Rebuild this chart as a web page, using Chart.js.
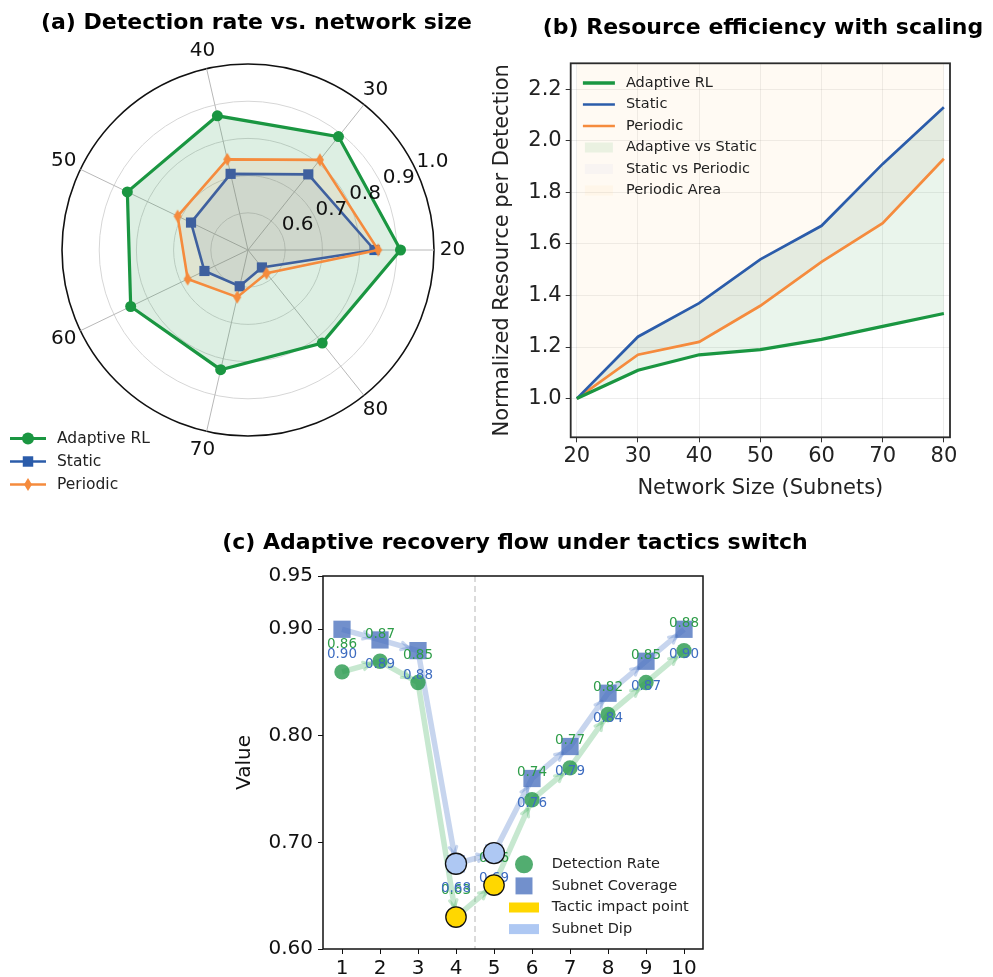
<!DOCTYPE html>
<html>
<head>
<meta charset="utf-8">
<script src="https://cdn.jsdelivr.net/npm/chart.js@4.4.0/dist/chart.umd.min.js"></script>
<style>
  html, body { margin: 0; padding: 0; background: #fff; overflow: hidden; width: 993px; height: 977px; }
  .panel { position: absolute; }
  #radarBox { left: 0; top: 0; width: 513px; height: 505px; }
  #costBox { left: 490px; top: 0; width: 546px; height: 505px; }
  #flowBox { left: 213px; top: 520px; width: 600px; height: 461px; }
</style>
</head>
<body>
<div class="panel" id="radarBox"><canvas id="radarChart"></canvas></div>
<div class="panel" id="costBox"><canvas id="costChart"></canvas></div>
<div class="panel" id="flowBox"><canvas id="flowChart"></canvas></div>
<script>
// (a) detection rate per network size
const sizes = [20, 30, 40, 50, 60, 70, 80];
const radarAdaptive = [0.91, 0.89, 0.87, 0.86, 0.85, 0.83, 0.82];
const radarStatic = [0.84, 0.76, 0.71, 0.67, 0.63, 0.60, 0.56];
const radarPeriodic = [0.85, 0.81, 0.75, 0.71, 0.68, 0.63, 0.58];
const radarTicks = [0.6, 0.7, 0.8, 0.9, 1.0];

// (b) resource per detection
const costAdaptive = [1.0, 1.11, 1.17, 1.19, 1.23, 1.28, 1.33];
const costStatic = [1.0, 1.24, 1.37, 1.54, 1.67, 1.91, 2.13];
const costPeriodic = [1.0, 1.17, 1.22, 1.36, 1.53, 1.68, 1.93];
const costTicks = [1.0, 1.2, 1.4, 1.6, 1.8, 2.0, 2.2];

// (c) recovery flow
const steps = [1, 2, 3, 4, 5, 6, 7, 8, 9, 10];
const detectionRate = [0.86, 0.87, 0.85, 0.63, 0.66, 0.74, 0.77, 0.82, 0.85, 0.88];
const subnetCoverage = [0.90, 0.89, 0.88, 0.68, 0.69, 0.76, 0.79, 0.84, 0.87, 0.90];
const dipSteps = [4, 5];
const switchStep = 4.5;
const valueTicks = [0.60, 0.70, 0.80, 0.90, 0.95];

const GREEN = "#1a9641";
const BLUE = "#2b5caa";
const ORANGE = "#f58b3d";
const FONT = "'DejaVu Sans', sans-serif";

Chart.defaults.font.family = FONT;
Chart.defaults.color = "#111";
Chart.defaults.animation = false;

// thin diamond marker (matplotlib 'd')
function thinDiamond(color, w, h) {
  const c = document.createElement("canvas");
  c.width = w + 2;
  c.height = h + 2;
  const g = c.getContext("2d");
  g.fillStyle = color;
  g.beginPath();
  g.moveTo(c.width / 2, 1);
  g.lineTo(c.width - 1, c.height / 2);
  g.lineTo(c.width / 2, c.height - 1);
  g.lineTo(1, c.height / 2);
  g.closePath();
  g.fill();
  return c;
}
const diamond = thinDiamond(ORANGE, 8, 13);

// matplotlib goes counter-clockwise, chart.js clockwise
function ccw(arr) {
  return [arr[0]].concat(arr.slice(1).reverse());
}

// bold panel title, not squeezed to the chart area width
function panelTitle(text, y, dx) {
  return {
    id: "panelTitle",
    afterDraw(chart) {
      const ctx = chart.ctx;
      ctx.save();
      ctx.font = "bold 22px " + FONT;
      ctx.fillStyle = "#000";
      ctx.textAlign = "center";
      ctx.textBaseline = "middle";
      ctx.fillText(text, chart.width / 2 + (dx || 0), y);
      ctx.restore();
    },
  };
}

// full box around the plot area
const frame = {
  id: "frame",
  afterDraw(chart, args, opts) {
    const a = chart.chartArea, ctx = chart.ctx;
    ctx.save();
    ctx.strokeStyle = opts.color || "#222";
    ctx.lineWidth = opts.width || 1.5;
    ctx.strokeRect(a.left, a.top, a.right - a.left, a.bottom - a.top);
    ctx.restore();
  },
};

// hand placed legend (chart.js can't put one inside the plot where we need it)
function boxLegend(spec) {
  return {
    id: "boxLegend",
    afterDraw(chart) {
      const ctx = chart.ctx, area = chart.chartArea;
      const x0 = spec.x(area), y0 = spec.y(area);
      ctx.save();
      ctx.font = spec.font;
      ctx.textBaseline = "middle";
      ctx.textAlign = "left";
      spec.items.forEach((it, i) => {
        const y = y0 + i * spec.row;
        if (it.line) {
          ctx.strokeStyle = it.color;
          ctx.lineWidth = it.line;
          ctx.beginPath();
          ctx.moveTo(x0 - spec.half, y);
          ctx.lineTo(x0 + spec.half, y);
          ctx.stroke();
        }
        if (it.patch) {
          const h = spec.patchHalf || spec.half;
          ctx.fillStyle = it.color;
          ctx.fillRect(x0 - h, y - 5, h * 2, 10);
        }
        if (it.point) {
          ctx.fillStyle = it.color;
          Chart.helpers.drawPoint(ctx, { pointStyle: it.point, radius: it.radius, rotation: 0, borderWidth: 0 }, x0, y);
        }
        ctx.fillStyle = "#222";
        ctx.fillText(it.text, x0 + spec.textDx, y);
      });
      ctx.restore();
    },
  };
}

// ---------- (a) radar ----------
const radarText = {
  id: "radarText",
  afterDraw(chart) {
    const r = chart.scales.r, ctx = chart.ctx;
    ctx.save();
    ctx.font = "20px " + FONT;
    ctx.fillStyle = "#111";
    ctx.textAlign = "center";
    ctx.textBaseline = "middle";
    chart.data.labels.forEach((lab, i) => {
      const p = r.getPointPosition(i, r.drawingArea + 18.5);
      ctx.fillText(lab, p.x, p.y);
    });
    // radial tick labels sit at ~25 deg like matplotlib's rlabel position
    const ang = (25 * Math.PI) / 180;
    ctx.textAlign = "left";
    ctx.textBaseline = "alphabetic";
    radarTicks.forEach((v) => {
      const d = r.getDistanceFromCenterForValue(v);
      ctx.fillText(v.toFixed(1), r.xCenter + d * Math.cos(ang), r.yCenter - d * Math.sin(ang) - 4);
    });
    ctx.restore();
  },
};

new Chart(document.getElementById("radarChart"), {
  type: "radar",
  data: {
    labels: ccw(sizes).map(String),
    datasets: [
      {
        label: "Adaptive RL",
        data: ccw(radarAdaptive),
        borderColor: GREEN,
        backgroundColor: "rgba(26,150,65,0.15)",
        borderWidth: 3.2,
        pointStyle: "circle",
        pointRadius: 5.5,
        pointBackgroundColor: GREEN,
        pointBorderWidth: 0,
        fill: true,
        order: 3,
      },
      {
        label: "Static",
        data: ccw(radarStatic),
        borderColor: BLUE,
        backgroundColor: "rgba(43,92,170,0.10)",
        borderWidth: 2.6,
        pointStyle: "rect",
        pointRadius: 7.2,
        pointBackgroundColor: BLUE,
        pointBorderWidth: 0,
        fill: true,
        order: 2,
      },
      {
        label: "Periodic",
        data: ccw(radarPeriodic),
        borderColor: ORANGE,
        backgroundColor: "rgba(245,139,61,0.10)",
        borderWidth: 2.6,
        pointStyle: diamond,
        pointRadius: 6,
        pointBorderWidth: 0,
        fill: true,
        order: 1,
      },
    ],
  },
  options: {
    responsive: true,
    maintainAspectRatio: false,
    layout: { padding: { left: 61.6, right: 78, top: 63.3, bottom: 68.3 } },
    plugins: {
      legend: { display: false },
      tooltip: { enabled: false },
    },
    scales: {
      r: {
        min: 0.5,
        max: 1.0,
        startAngle: 90,
        ticks: { display: false, stepSize: 0.1 },
        pointLabels: { display: false },
        grid: {
          circular: true,
          color: (c) => (c.tick && c.tick.value > 0.99 ? "#111" : "#d6d6d6"),
          lineWidth: (c) => (c.tick && c.tick.value > 0.99 ? 1.6 : 1),
        },
        angleLines: { color: "#b8b8b8", lineWidth: 1 },
      },
    },
  },
  plugins: [
    radarText,
    panelTitle("(a) Detection rate vs. network size", 23),
    boxLegend({
      x: () => 28,
      y: () => 438.5,
      row: 23,
      half: 18,
      textDx: 29,
      font: "15.5px " + FONT,
      items: [
        { text: "Adaptive RL", color: GREEN, line: 3.2, point: "circle", radius: 6 },
        { text: "Static", color: BLUE, line: 2.6, point: "rect", radius: 7.4 },
        { text: "Periodic", color: ORANGE, line: 2.6, point: diamond, radius: 6 },
      ],
    }),
  ],
});

// ---------- (b) resource efficiency ----------
function pts(ys) {
  return sizes.map((s, i) => ({ x: s, y: ys[i] }));
}

const FILL_AS = "rgba(46,160,67,0.10)";
const FILL_SP = "rgba(110,110,210,0.05)";
const FILL_P = "rgba(255,205,120,0.09)";

new Chart(document.getElementById("costChart"), {
  type: "line",
  data: {
    datasets: [
      { label: "Adaptive RL", data: pts(costAdaptive), borderColor: GREEN, backgroundColor: GREEN, borderWidth: 3.3, pointRadius: 0, fill: false },
      { label: "Static", data: pts(costStatic), borderColor: BLUE, backgroundColor: BLUE, borderWidth: 2.7, pointRadius: 0, fill: false },
      { label: "Periodic", data: pts(costPeriodic), borderColor: ORANGE, backgroundColor: ORANGE, borderWidth: 2.7, pointRadius: 0, fill: false },
      { label: "Adaptive vs Static", data: pts(costStatic), borderWidth: 0, borderColor: "transparent", backgroundColor: FILL_AS, pointRadius: 0, fill: { target: 0 } },
      { label: "Static vs Periodic", data: pts(costPeriodic), borderWidth: 0, borderColor: "transparent", backgroundColor: FILL_SP, pointRadius: 0, fill: { target: 1 } },
      { label: "Periodic Area", data: pts(costPeriodic), borderWidth: 0, borderColor: "transparent", backgroundColor: FILL_P, pointRadius: 0, fill: "end" },
    ],
  },
  options: {
    responsive: true,
    maintainAspectRatio: false,
    layout: { padding: { left: 0, right: 86, top: 63.3, bottom: 0 } },
    plugins: {
      tooltip: { enabled: false },
      legend: { display: false },
      frame: { color: "#2b2b2b", width: 1.8 },
    },
    scales: {
      x: {
        type: "linear",
        min: 19,
        max: 81,
        afterBuildTicks: (axis) => { axis.ticks = sizes.map((v) => ({ value: v })); },
        afterFit: (axis) => { axis.height = 67.7; },
        ticks: { font: { size: 21 }, color: "#222", padding: 2 },
        grid: { color: "rgba(0,0,0,0.07)", tickColor: "#333", tickLength: 5 },
        border: { display: false },
        title: { display: true, text: "Network Size (Subnets)", font: { size: 21 }, color: "#222", padding: { top: 4, bottom: 4 } },
      },
      y: {
        min: 0.85,
        max: 2.3,
        afterBuildTicks: (axis) => { axis.ticks = costTicks.map((v) => ({ value: v })); },
        afterFit: (axis) => { axis.width = 80.7; },
        ticks: { font: { size: 21 }, color: "#222", padding: 4, callback: (v) => v.toFixed(1) },
        grid: { color: "rgba(0,0,0,0.07)", tickColor: "#333", tickLength: 5 },
        border: { display: false },
        title: { display: true, text: "Normalized Resource per Detection", font: { size: 21 }, color: "#222", padding: { top: 0, bottom: 0 } },
      },
    },
  },
  plugins: [
    frame,
    panelTitle("(b) Resource efficiency with scaling", 28),
    boxLegend({
      x: (a) => a.left + 28.2,
      y: (a) => a.top + 19.7,
      row: 21.5,
      half: 16,
      patchHalf: 14,
      textDx: 27,
      font: "14.5px " + FONT,
      items: [
        { text: "Adaptive RL", color: GREEN, line: 3.3 },
        { text: "Static", color: BLUE, line: 2.7 },
        { text: "Periodic", color: ORANGE, line: 2.7 },
        { text: "Adaptive vs Static", color: FILL_AS, patch: true },
        { text: "Static vs Periodic", color: FILL_SP, patch: true },
        { text: "Periodic Area", color: FILL_P, patch: true },
      ],
    }),
  ],
});

// ---------- (c) recovery flow ----------
const detPts = steps.map((s, i) => ({ x: s, y: detectionRate[i] }));
const covPts = steps.map((s, i) => ({ x: s, y: subnetCoverage[i] }));
const detDip = dipSteps.map((s) => ({ x: s, y: detectionRate[steps.indexOf(s)] }));
const covDip = dipSteps.map((s) => ({ x: s, y: subnetCoverage[steps.indexOf(s)] }));

const LABEL_GREEN = "#2e9d48";
const LABEL_BLUE = "#3d6cc0";
const DET_FILL = "rgba(44,155,80,0.82)";
const COV_FILL = "rgba(74,113,190,0.78)";

const flowExtras = {
  id: "flowExtras",
  beforeDatasetsDraw(chart) {
    // tactic switch marker
    const ctx = chart.ctx, a = chart.chartArea;
    const x = chart.scales.x.getPixelForValue(switchStep);
    ctx.save();
    ctx.strokeStyle = "#cfcfcf";
    ctx.lineWidth = 1.5;
    ctx.setLineDash([6, 4]);
    ctx.beginPath();
    ctx.moveTo(x, a.top);
    ctx.lineTo(x, a.bottom);
    ctx.stroke();
    ctx.restore();
  },
  afterDatasetDraw(chart, args) {
    const ctx = chart.ctx;
    const ds = chart.data.datasets[args.index];
    if (ds.arrows) {
      // chevron heads at the end of every step
      const pts = args.meta.data;
      ctx.save();
      ctx.strokeStyle = ds.borderColor;
      ctx.lineWidth = 3;
      ctx.lineCap = "round";
      for (let i = 1; i < pts.length; i++) {
        const dx = pts[i].x - pts[i - 1].x, dy = pts[i].y - pts[i - 1].y;
        const len = Math.hypot(dx, dy);
        const ux = dx / len, uy = dy / len;
        const tx = pts[i].x - ux * 10, ty = pts[i].y - uy * 10;
        [0.5, -0.5].forEach((t) => {
          const c = Math.cos(t), s = Math.sin(t);
          const bx = -(ux * c - uy * s), by = -(ux * s + uy * c);
          ctx.beginPath();
          ctx.moveTo(tx, ty);
          ctx.lineTo(tx + bx * 8, ty + by * 8);
          ctx.stroke();
        });
      }
      ctx.restore();
    }
    if (ds.label === "Detection Rate") {
      // value labels go over the normal markers, under the dip circles
      const det = chart.getDatasetMeta(args.index).data;
      const cov = chart.getDatasetMeta(args.index + 1).data;
      ctx.save();
      ctx.font = "13.5px " + FONT;
      ctx.textAlign = "center";
      ctx.textBaseline = "middle";
      ctx.fillStyle = LABEL_GREEN;
      det.forEach((p, i) => ctx.fillText(detectionRate[i].toFixed(2), p.x, p.y - 27));
      ctx.fillStyle = LABEL_BLUE;
      cov.forEach((p, i) => ctx.fillText(subnetCoverage[i].toFixed(2), p.x, p.y + 25));
      ctx.restore();
    }
  },
};

new Chart(document.getElementById("flowChart"), {
  type: "scatter",
  data: {
    datasets: [
      { label: "Subnet Dip", data: covDip, pointRadius: 10.5, pointBackgroundColor: "#aec8f3", pointBorderColor: "#111", pointBorderWidth: 1.3 },
      { label: "Tactic impact point", data: detDip, pointRadius: 10.2, pointBackgroundColor: "#ffd700", pointBorderColor: "#111", pointBorderWidth: 1.3 },
      { label: "Detection Rate", data: detPts, pointRadius: 7.7, pointStyle: "circle", pointBackgroundColor: DET_FILL, pointBorderWidth: 0 },
      { label: "Subnet Coverage", data: covPts, pointRadius: 12.2, pointStyle: "rect", pointBackgroundColor: COV_FILL, pointBorderWidth: 0 },
      { label: "coverage flow", data: covPts, showLine: true, borderColor: "rgba(95,135,205,0.35)", borderWidth: 5.5, pointRadius: 0, arrows: true },
      { label: "detection flow", data: detPts, showLine: true, borderColor: "rgba(70,180,100,0.30)", borderWidth: 5.5, pointRadius: 0, arrows: true },
    ],
  },
  options: {
    responsive: true,
    maintainAspectRatio: false,
    layout: { padding: { left: 10, right: 110, top: 56, bottom: 0 } },
    plugins: {
      legend: { display: false },
      tooltip: { enabled: false },
      frame: { color: "#111", width: 1.5 },
    },
    scales: {
      x: {
        type: "linear",
        min: 0.5,
        max: 10.5,
        afterBuildTicks: (axis) => { axis.ticks = steps.map((v) => ({ value: v })); },
        afterFit: (axis) => { axis.height = 32; },
        ticks: { font: { size: 20 }, color: "#111", padding: 3 },
        grid: { drawOnChartArea: false, tickColor: "#111", tickLength: 5 },
        border: { display: false },
      },
      y: {
        min: 0.6,
        max: 0.95,
        afterBuildTicks: (axis) => { axis.ticks = valueTicks.map((v) => ({ value: v })); },
        afterFit: (axis) => { axis.width = 100; },
        ticks: { font: { size: 20 }, color: "#111", padding: 5, callback: (v) => v.toFixed(2) },
        grid: { drawOnChartArea: false, tickColor: "#111", tickLength: 5 },
        border: { display: false },
        title: { display: true, text: "Value", font: { size: 20 }, color: "#111", padding: { top: 10, bottom: 0 } },
      },
    },
  },
  plugins: [
    frame,
    flowExtras,
    panelTitle("(c) Adaptive recovery flow under tactics switch", 23, 2),
    boxLegend({
      x: (a) => a.left + 201,
      y: (a) => a.bottom - 84.7,
      row: 21.6,
      half: 15,
      textDx: 27.7,
      font: "14.5px " + FONT,
      items: [
        { text: "Detection Rate", color: DET_FILL, point: "circle", radius: 9 },
        { text: "Subnet Coverage", color: COV_FILL, point: "rect", radius: 12 },
        { text: "Tactic impact point", color: "#ffd700", patch: true },
        { text: "Subnet Dip", color: "#aec8f3", patch: true },
      ],
    }),
  ],
});
</script>
</body>
</html>
